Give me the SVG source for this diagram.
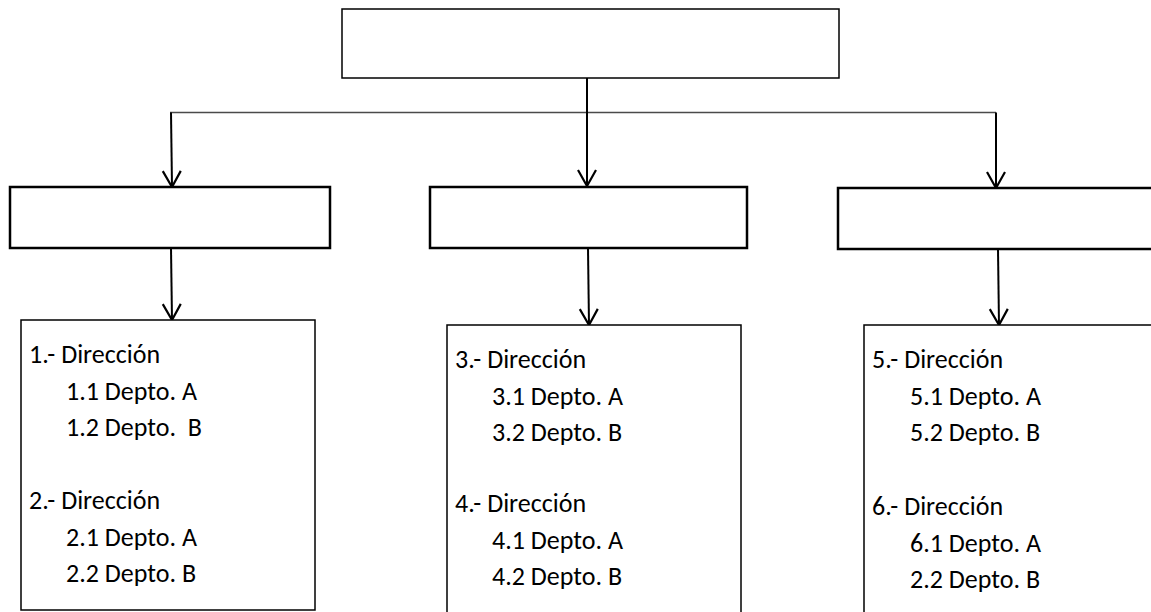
<svg xmlns="http://www.w3.org/2000/svg" width="1151" height="612" viewBox="0 0 1151 612">
  <style>
    .box { fill: #ffffff; stroke: #000000; stroke-width: 1.5; }
    .box2 { fill: #ffffff; stroke: #000000; stroke-width: 2.5; }
    .arrow { fill: none; stroke: #000000; stroke-width: 2; marker-end: url(#vhead); }
    .bus { fill: none; stroke: #4a4a4a; stroke-width: 1.5; }
    .txt { font-family: Carlito, Calibri, "Open Sans", "Noto Sans", sans-serif; font-size: 26px; fill: #000000; }
  </style>
  <defs>
    <marker id="vhead" markerUnits="userSpaceOnUse" markerWidth="20" markerHeight="24" viewBox="-18 -11 20 22" refX="0" refY="0" orient="auto" overflow="visible">
      <path d="M-16,-9 L0,0 L-16,9" fill="none" stroke="#000000" stroke-width="2.2"/>
    </marker>
  </defs>
  <rect width="1151" height="612" fill="#ffffff"/>

  <g id="connectors">
    <line class="bus" x1="170" y1="112.5" x2="996" y2="112.5"/>
    <line class="arrow" x1="587" y1="78" x2="587" y2="186"/>
    <line class="arrow" x1="171" y1="112.5" x2="172" y2="187"/>
    <line class="arrow" x1="996" y1="112.5" x2="996" y2="188"/>
    <line class="arrow" x1="171" y1="248" x2="172" y2="320"/>
    <line class="arrow" x1="588" y1="248" x2="589" y2="325"/>
    <line class="arrow" x1="998" y1="249" x2="999" y2="325"/>
  </g>

  <g id="root">
    <rect class="box" x="342" y="9" width="497" height="69"/>
  </g>

  <g id="unit-left">
    <rect class="box2" x="10" y="187" width="320" height="61"/>
  </g>
  <g id="unit-center">
    <rect class="box2" x="430" y="187" width="317" height="61"/>
  </g>
  <g id="unit-right">
    <rect class="box2" x="838" y="188" width="330" height="61"/>
  </g>

  <g id="list-left">
    <rect class="box" x="21" y="320" width="294" height="290"/>
    <text class="txt" x="29" y="363">1.- Dirección</text>
    <text class="txt" x="66" y="399.5">1.1 Depto. A</text>
    <text class="txt" x="66" y="436" xml:space="preserve">1.2 Depto.  B</text>
    <text class="txt" x="29" y="509">2.- Dirección</text>
    <text class="txt" x="66" y="545.5">2.1 Depto. A</text>
    <text class="txt" x="66" y="582">2.2 Depto. B</text>
  </g>

  <g id="list-center">
    <rect class="box" x="447" y="325" width="294" height="300"/>
    <text class="txt" x="455" y="368">3.- Dirección</text>
    <text class="txt" x="492" y="404.5">3.1 Depto. A</text>
    <text class="txt" x="492" y="441">3.2 Depto. B</text>
    <text class="txt" x="455" y="512">4.- Dirección</text>
    <text class="txt" x="492" y="548.5">4.1 Depto. A</text>
    <text class="txt" x="492" y="585">4.2 Depto. B</text>
  </g>

  <g id="list-right">
    <rect class="box" x="864" y="325" width="300" height="300"/>
    <text class="txt" x="872" y="368">5.- Dirección</text>
    <text class="txt" x="910" y="404.5">5.1 Depto. A</text>
    <text class="txt" x="910" y="441">5.2 Depto. B</text>
    <text class="txt" x="872" y="515">6.- Dirección</text>
    <text class="txt" x="910" y="551.5">6.1 Depto. A</text>
    <text class="txt" x="910" y="588">2.2 Depto. B</text>
  </g>
</svg>
